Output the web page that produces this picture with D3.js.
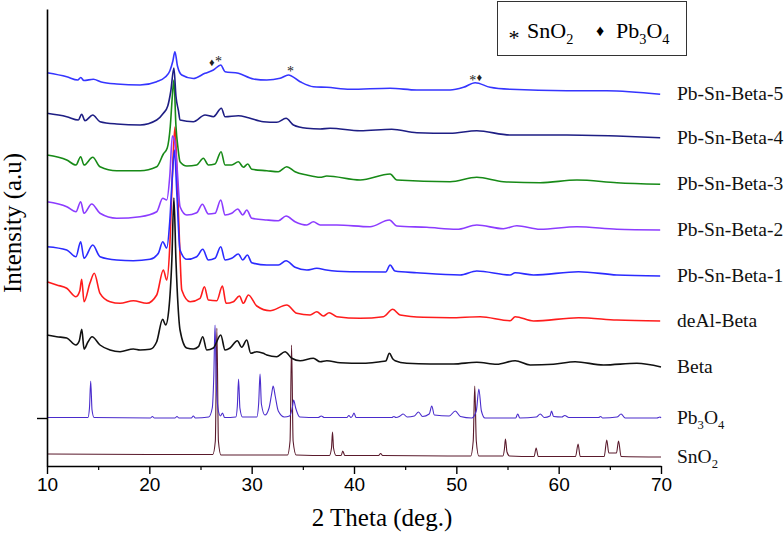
<!DOCTYPE html>
<html><head><meta charset="utf-8">
<script src="https://cdn.jsdelivr.net/npm/d3@7/dist/d3.min.js"></script>
<style>body{margin:0;background:#fff}svg{display:block}</style>
</head><body>
<script>
// ---- data (2θ in degrees, intensity in a.u., traces already stacked as plotted) ----
const seriesNames = ["Pb-Sn-Beta-5","Pb-Sn-Beta-4","Pb-Sn-Beta-3","Pb-Sn-Beta-2","Pb-Sn-Beta-1","deAl-Beta","Beta","Pb3O4","SnO2"];
const seriesColors = ["#3535ff","#1e1e84","#178a17","#8c3cff","#2b2bff","#ff1c1c","#111111","#4a2ccc","#5a1a2c"];

const beta5 = [[10,393.3],[11.93,389.3],[13.0,386],[13.3,388.5],[13.6,385.5],[14.53,386.7],[15.3,384],[16.81,382],[19.09,381],[20.72,384.3],[21.53,388.7],[22.0,395],[22.3,405],[22.5,414.3],[22.75,400],[23.17,391],[24.3,387.5],[25.44,392.7],[26.26,396],[26.98,401],[27.4,394.3],[28.7,392.7],[30.17,387],[31.48,386],[32.78,387.7],[33.59,391],[34.73,384.3],[36.03,379.3],[37.34,378.7],[39.62,376.7],[43.53,377.7],[46.14,376],[49.39,376],[50.7,378.7],[51.84,383.3],[53.3,378.7],[55.26,376.7],[60.8,375.3],[64.71,375.3],[69.92,371.7]];
const beta4 = [[10,352.7],[11.93,349.3],[13.06,346],[13.39,351.7],[13.71,345.3],[14.47,351],[15.18,344.3],[16.81,342],[19.09,341],[20.72,346],[21.37,352.7],[21.8,360],[22.1,375],[22.4,398],[22.6,370],[22.85,355],[23.0,346],[24.3,344.3],[25.44,351],[26.26,349.3],[27.04,357.7],[27.4,349.3],[28.7,350.3],[29.68,348.3],[31.14,344.3],[32.45,343.7],[33.36,347.7],[34.08,341],[35.39,337.7],[36.69,337],[37.66,337.7],[40.6,335.3],[43.69,336.7],[46.14,333.3],[49.39,332.7],[52.0,335.3],[55.26,331],[60.8,331],[65.69,330],[69.92,328.3]];
const beta3 = [[10,311],[11.93,306],[12.83,301],[13.29,309.3],[13.62,301],[14.47,308.7],[15.18,299.3],[16.81,295.3],[19.09,295.3],[20.72,299.3],[21.37,312],[21.75,318],[22.05,340],[22.25,370],[22.4,386],[22.6,340],[22.8,318],[23.0,304.3],[23.66,300],[24.63,301],[25.28,307.7],[25.77,301],[26.42,302],[27.01,314.3],[27.4,301],[28.05,301],[28.7,304.3],[29.19,298.7],[29.62,302],[30.01,296.7],[31.48,295.3],[32.61,294.3],[33.43,299.3],[34.24,294.3],[35.39,291],[36.69,288.7],[37.34,290],[40.6,286],[43.53,292],[44.18,286],[49.39,284.3],[52.0,288.7],[54.6,284.3],[58.19,283.3],[61.78,286],[65.69,283.3],[69.92,281.7]];
const beta2 = [[10,264.3],[11.93,259.3],[12.83,254.3],[13.29,264.3],[13.62,252.7],[14.37,262],[15.18,252.7],[16.81,247.7],[19.09,249.3],[20.72,254.3],[21.31,267.7],[21.7,266],[22.0,290],[22.25,330],[22.45,326],[22.7,300],[23.0,259.3],[23.66,251],[24.63,253.3],[25.18,261.7],[25.77,252],[26.42,252.7],[26.98,266],[27.4,251],[28.05,252.7],[28.64,257],[29.13,251],[29.52,256],[30.01,247.7],[31.48,246],[32.61,245.3],[33.36,250],[34.24,244.3],[35.39,241],[36.03,244.3],[36.69,241],[38.32,241],[41.57,239.3],[43.46,246],[44.18,240],[47.12,238.7],[50.05,236.7],[52.0,241],[54.6,237.3],[55.91,240.3],[58.19,236.7],[61.78,239.3],[65.69,236.7],[69.92,236]];
const beta1 = [[10,219.3],[11.93,216],[12.83,209.3],[13.29,224.3],[13.62,207.7],[14.47,221],[15.18,209.3],[16.81,206],[18.44,205.3],[20.07,206.7],[20.88,212.7],[21.31,224.3],[21.7,218],[22.0,245],[22.25,290],[22.45,316],[22.7,270],[23.0,216],[23.66,206.7],[24.63,209.3],[25.22,216.7],[25.77,206],[26.42,207.7],[26.98,219.3],[27.4,206],[28.05,207.7],[28.7,212],[29.13,206],[29.58,211],[30.01,203.3],[31.48,201],[32.61,201],[33.36,205.3],[34.24,198.7],[35.39,196],[36.36,197.7],[37.3,196],[39.62,194.3],[43.1,194],[43.53,201],[44.0,195],[46.14,193.3],[50.37,191],[52.0,195],[55.26,191],[55.75,193.3],[57.54,191],[61.94,194.3],[65.69,191],[69.92,190]];
const deAlBeta = [[10,184.3],[10.95,181],[11.93,177.7],[12.83,169.3],[13.2,175],[13.39,186.7],[13.62,164.3],[14.2,183],[14.62,192.7],[15.18,172.7],[16.16,164.3],[17.14,162.7],[18.44,165.3],[19.75,162.7],[20.72,171],[21.37,196],[21.7,186],[22.0,220],[22.25,290],[22.5,339],[22.75,280],[23.0,210],[23.17,176],[23.98,164.3],[24.96,167.7],[25.38,179.3],[25.77,166],[26.59,165.3],[27.14,180],[27.5,162.7],[28.21,164.3],[28.8,170],[29.19,162.7],[29.68,171],[30.5,160],[31.8,155.3],[33.43,161],[34.41,152.7],[35.71,151],[36.36,154.3],[37.01,150],[37.57,153.3],[38.32,149.3],[40.6,147.7],[42.87,149.3],[43.79,156.7],[44.51,151],[46.78,148.7],[49.39,148.3],[52.33,149.3],[55.26,145.3],[55.75,149.3],[57.54,145],[61.94,148.3],[65.69,146],[69.92,145]];
const beta = [[10,131],[10.95,129.3],[11.93,128],[12.83,121],[13.15,125],[13.4,136.7],[13.62,117],[14.0,124],[14.4,129.3],[15.18,121],[16.16,116],[17.14,114.3],[18.44,117],[19.09,116],[20.07,116.7],[20.72,124.3],[21.3,146.7],[21.6,141],[21.9,156],[22.2,206],[22.4,268],[22.6,206],[22.8,161],[23.0,136],[23.65,118],[24.3,117],[24.8,119.3],[25.22,129.3],[25.61,116],[26.26,118],[26.98,131],[27.4,116],[27.89,118],[28.6,125.3],[29.03,118.7],[29.52,126],[29.91,112.7],[30.5,114.3],[31.14,112.7],[31.48,111],[32.45,109.3],[33.26,114.3],[33.92,107.7],[34.73,105.3],[36.03,107.7],[36.69,104.3],[37.34,105.3],[38.64,103.3],[40.92,102.7],[42.55,104.3],[43.1,105],[43.46,112.7],[43.8,107],[44.02,105.3],[45.16,102.7],[47.44,102],[49.72,102],[52.0,103.7],[53.96,101.7],[55.75,105.3],[57.21,101],[59.49,101.7],[61.61,104.3],[64.38,101],[67.64,102.7],[70,99]];
const pb3o4 = [[10,48.5],[14.0,48.5],[14.15,58],[14.27,85],[14.4,56],[14.6,48.5],[20.1,48],[20.3,49.5],[20.5,48],[22.5,48],[22.7,49.5],[22.9,48],[24.1,48],[24.3,50],[24.5,48],[25.8,49],[26.15,58],[26.3,90],[26.42,141],[26.55,80],[26.75,55],[26.95,50],[27.15,53],[27.35,48.5],[28.45,49],[28.6,60],[28.72,87],[28.85,58],[29.1,49],[30.5,49],[30.68,62],[30.82,92],[30.95,62],[31.3,51],[31.7,58],[31.95,72],[32.1,80],[32.3,70],[32.6,55],[33.2,49],[33.7,50],[34.0,60],[34.1,66],[34.3,58],[34.7,49],[36.5,48.5],[36.8,50],[37.1,48.5],[39.3,48.5],[39.5,50.5],[39.7,48.5],[39.85,50],[40.0,53],[40.2,48.5],[43.7,48.5],[43.9,49.5],[44.1,48.5],[44.5,50],[44.8,52],[45.2,49],[45.9,50],[46.3,54],[46.7,49.5],[47.35,52],[47.6,60],[47.85,51],[49.3,50],[49.9,55],[50.4,49.5],[51.5,48],[51.95,55],[52.2,77],[52.45,55],[52.8,48],[55.8,48],[56.0,52],[56.2,48],[57.8,49],[58.2,52],[58.6,48.5],[59.15,50],[59.3,55],[59.5,49.5],[60.3,49],[60.6,50.5],[61.0,48.5],[63.9,48.5],[64.1,49.5],[64.3,48],[65.7,49],[66.1,52],[66.5,48],[69.6,48],[69.9,49],[70,48]];
const sno2 = [[10,12],[20,11.5],[26.2,11.5],[26.45,25],[26.6,138],[26.75,25],[27.0,11],[33.5,11],[33.75,25],[33.9,121],[34.05,25],[34.35,11],[37.6,10.5],[37.8,18],[37.9,34],[38.0,18],[38.25,10.5],[38.75,10.5],[38.9,15],[39.1,10.5],[42.4,10.5],[42.6,12.5],[42.8,10.5],[51.4,10],[51.65,25],[51.8,80],[51.95,25],[52.2,10],[54.55,10],[54.7,17],[54.8,27],[54.95,14],[55.2,10],[57.6,9.5],[57.8,18],[58.0,9.5],[61.65,9.5],[61.9,22],[62.1,9.5],[64.45,9.5],[64.7,26],[64.9,13],[65.65,13],[65.85,25],[66.1,9.5],[70,9]];
const seriesData = [beta5,beta4,beta3,beta2,beta1,deAlBeta,beta,pb3o4,sno2];

const xTicks = [10,20,30,40,50,60,70];
const xMinorTicks = [15,25,35,45,55,65];
const yTicks = [48];
// peak markers: [symbol, 2θ, intensity]
const markers = [["\u2666",26.1,404],["*",26.75,407],["*",33.8,397],["*",51.6,388],["\u2666",52.25,389]];

// ---- drawing ----
const W = 784, H = 537;
const SERIF = "Liberation Serif";
const SANS = "Liberation Sans";
const svg = d3.select("body").append("svg").attr("width", W).attr("height", H);
const x = d3.scaleLinear().domain([10,70]).range([47,661]);
const y = d3.scaleLinear().domain([0,457]).range([466,9]);

const line = d3.line().x(d=>x(d[0])).y(d=>y(d[1])).curve(d3.curveMonotoneX);
for (let i = seriesData.length-1; i >= 0; i--) {
  svg.append("path").datum(seriesData[i]).attr("d", line)
    .attr("fill","none").attr("stroke", seriesColors[i])
    .attr("stroke-width", i >= 7 ? 1.1 : 1.6).attr("stroke-linejoin","round");
}

// axes
const xAxis = d3.axisBottom(x).tickValues(xTicks).tickSize(8).tickSizeOuter(0).tickPadding(4).tickFormat(d3.format("d"));
const gx = svg.append("g").attr("transform", `translate(0,${y(0)})`).call(xAxis)
  .attr("font-family", SANS).attr("font-size", 19);
gx.select(".domain").attr("stroke","#000").attr("stroke-width",1.6);
gx.selectAll(".tick line").attr("stroke","#000").attr("stroke-width",1.4);
gx.selectAll(".tick text").attr("fill","#000");
const gxm = svg.append("g").attr("transform", `translate(0,${y(0)})`)
  .call(d3.axisBottom(x).tickValues(xMinorTicks).tickSize(4).tickFormat(""));
gxm.select(".domain").remove();
gxm.selectAll(".tick line").attr("stroke","#000").attr("stroke-width",1.2);

const gy = svg.append("g").attr("transform", `translate(${x(10)},0)`)
  .call(d3.axisLeft(y).tickValues(yTicks).tickSize(10).tickSizeOuter(0).tickFormat(""));
gy.select(".domain").attr("stroke","#000").attr("stroke-width",1.6);
gy.selectAll(".tick line").attr("stroke","#000").attr("stroke-width",1.4);

// axis titles
svg.append("text").attr("font-family",SERIF).attr("font-size",25).attr("x", 382).attr("y", 526)
  .attr("text-anchor","middle").text("2 Theta (deg.)");
svg.append("text").attr("font-family",SERIF).attr("font-size",25).attr("transform","translate(21,223) rotate(-90)")
  .attr("text-anchor","middle").text("Intensity (a.u)");

// series labels
function subLabel(sel, parts, size) {
  parts.forEach(p => {
    const t = sel.append("tspan").text(p[0]);
    if (p[1]) t.attr("font-size", size*0.65).attr("dy", size*0.28);
    else if (p[2]) t.attr("dy", -size*0.28);
  });
}
seriesNames.forEach((name, i) => {
  const last = seriesData[i][seriesData[i].length-1];
  const t = svg.append("text").attr("font-family",SERIF).attr("font-size",19.5)
    .attr("x", 677).attr("y", y(last[1]) + 6).attr("fill","#111");
  if (name === "Pb3O4") subLabel(t, [["Pb"],["3",true],["O",false,true],["4",true]], 19.5);
  else if (name === "SnO2") subLabel(t, [["SnO"],["2",true]], 19.5);
  else t.text(name);
});

// peak markers
markers.forEach(m => {
  svg.append("text").attr("font-family",SERIF).attr("x", x(m[1])).attr("y", y(m[2]) + (m[0]==="*"?7:4))
    .attr("text-anchor","middle").attr("font-size", m[0]==="*"?14:11).attr("fill","#222").text(m[0]);
});

// legend
svg.append("rect").attr("x",497.5).attr("y",1.5).attr("width",189).attr("height",54)
  .attr("fill","#fff").attr("stroke","#333").attr("stroke-width",1);
svg.append("text").attr("font-family",SERIF).attr("font-size",22).attr("x",514).attr("y",45)
  .attr("text-anchor","middle").text("*");
const l1 = svg.append("text").attr("font-family",SERIF).attr("font-size",22).attr("x",527).attr("y",38);
subLabel(l1, [["SnO"],["2",true]], 22);
svg.append("text").attr("font-family",SERIF).attr("font-size",16).attr("x",600).attr("y",36)
  .attr("text-anchor","middle").text("\u2666");
const l2 = svg.append("text").attr("font-family",SERIF).attr("font-size",22).attr("x",616).attr("y",38);
subLabel(l2, [["Pb"],["3",true],["O",false,true],["4",true]], 22);
</script>
</body></html>
